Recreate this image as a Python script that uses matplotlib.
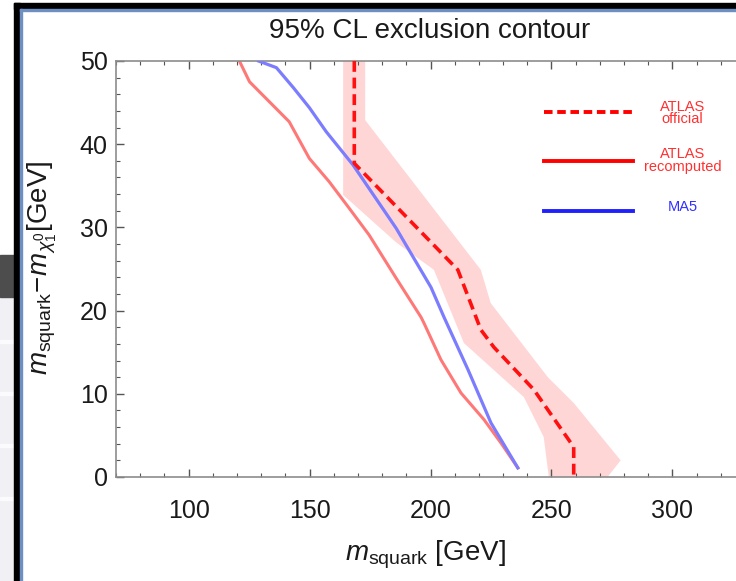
import matplotlib.pyplot as plt
from matplotlib.patches import Rectangle
from matplotlib.ticker import MultipleLocator

plt.rcParams['font.family'] = ['Liberation Sans', 'DejaVu Sans']
plt.rcParams['mathtext.fontset'] = 'custom'
plt.rcParams['mathtext.rm'] = 'Liberation Sans'
plt.rcParams['mathtext.it'] = 'Liberation Sans:italic'

# ATLAS official contour (dashed) and its uncertainty band
official_x = [168.5, 168.5, 211.3, 220.8, 226.2, 242.7, 259.2, 259.2]
official_y = [50, 37.7, 24.9, 17.7, 15.6, 10.5, 3.6, 0]
band_lo_x = [163.9, 163.9, 185.8, 201.4, 213.8, 238.6, 246.8, 248.9]
band_lo_y = [50, 33.9, 28.2, 24.9, 16.1, 9.6, 4.8, 0]
band_hi_x = [173.0, 173.0, 220.8, 224.9, 248.5, 259.2, 278.6, 273.2]
band_hi_y = [50, 42.9, 24.9, 20.9, 12.0, 8.9, 2.0, 0]

# ATLAS recomputed
recomp_x = [121.0, 125.2, 133.4, 141.6, 149.9, 158.1, 166.4, 174.6, 185.8,
            196.1, 197.3, 204.3, 212.6, 222.1, 229.1, 236.1]
recomp_y = [50, 47.5, 45.1, 42.7, 38.3, 35.5, 32.3, 29.1, 23.9,
            19.2, 18.5, 14.1, 10.1, 6.9, 4.1, 1.1]

# MA5
ma5_x = [128.9, 136.3, 143.3, 149.9, 156.9, 168.0, 185.8, 200.2, 205.6,
         215.5, 225.0, 236.1]
ma5_y = [50, 49.2, 46.8, 44.4, 41.5, 37.5, 29.9, 22.8, 19.2, 12.9, 6.5, 1.1]

legend_labels = ['ATLAS\nofficial', 'ATLAS\nrecomputed', 'MA5']

W, H = 736, 581
fig = plt.figure(figsize=(W / 100, H / 100), dpi=100)

# screenshot surroundings
fig.patches.append(Rectangle((0, 0), 14 / W, 1 - 297 / H, transform=fig.transFigure,
                             color='#f0f0f5', zorder=0))
fig.patches.append(Rectangle((0, 1 - 297 / H), 14 / W, 42 / H,
                             transform=fig.transFigure, color='#4d4d4d', zorder=0))
for yy in [343, 395, 447, 500]:
    fig.patches.append(Rectangle((0, 1 - yy / H), 14 / W, 3 / H,
                                 transform=fig.transFigure, color='#fbfbfd', zorder=0))
fig.patches.append(Rectangle((14 / W, 0), 6 / W, 1 - 3 / H, transform=fig.transFigure,
                             color='black', zorder=5))
fig.patches.append(Rectangle((14 / W, 1 - 9 / H), 1, 6 / H, transform=fig.transFigure,
                             color='black', zorder=5))
fig.patches.append(Rectangle((20 / W, 0), 1.5 / W, 1 - 9 / H, transform=fig.transFigure,
                             color='#6d8fc4', zorder=5))
fig.patches.append(Rectangle((20 / W, 1 - 10.5 / H), 1, 1.5 / H, transform=fig.transFigure,
                             color='#6d8fc4', zorder=5))

ax = fig.add_axes([116 / W, 1 - 477 / H, (745 - 116) / W, (477 - 61) / H])

band_x = band_lo_x + band_hi_x[::-1]
band_y = band_lo_y + band_hi_y[::-1]
ax.fill(band_x, band_y, color='#ffd6d6', lw=0, zorder=1)
ax.plot(recomp_x, recomp_y, color='#ff7878', lw=2.2, zorder=2)
ax.plot(ma5_x, ma5_y, color='#7c7cff', lw=2.3, zorder=3)
ax.plot(official_x, official_y, color='#ff1010', lw=2.6, ls=(0, (3, 1.6)), zorder=4)

ax.set_xlim(70, 330)
ax.set_ylim(0, 50)

for s in ['left', 'bottom', 'top']:
    ax.spines[s].set_color('#8c8c8c')
    ax.spines[s].set_linewidth(1.2)
ax.spines['right'].set_visible(False)

ax.xaxis.set_major_locator(MultipleLocator(50))
ax.xaxis.set_minor_locator(MultipleLocator(10))
ax.yaxis.set_major_locator(MultipleLocator(10))
ax.yaxis.set_minor_locator(MultipleLocator(2))
ax.tick_params(which='both', direction='in', top=True, right=False, color='#555555')
ax.tick_params(which='major', length=6, width=1)
ax.tick_params(which='minor', length=3, width=0.8)
ax.tick_params(axis='x', which='major', labelsize=18, pad=16, labelcolor='#1a1a1a')
ax.tick_params(axis='y', which='major', labelsize=18, pad=6, labelcolor='#1a1a1a')
ax.set_xticks([100, 150, 200, 250, 300])

fig.text(430 / W, 1 - 31 / H, '95% CL exclusion contour', ha='center', va='center',
         fontsize=20, color='#1a1a1a')
fig.text(425 / W, 1 - 555 / H, r'$m_{\mathrm{squark}}$ [GeV]', ha='center',
         va='center', fontsize=20, color='#1a1a1a')
fig.text(42 / W, 1 - 268 / H, r'$m_{\mathrm{squark}}\!-\!m_{\chi_1^0}$[GeV]',
         ha='center', va='center', rotation=90, fontsize=20, color='#1a1a1a')

# legend
leg_y = [0.877, 0.760, 0.639]
leg_txt_y = [0.875, 0.760, 0.648]
leg_styles = [dict(color='#ff0000', ls=(0, (2.2, 1.2))), dict(color='#ff0000', ls='-'),
              dict(color='#2020ff', ls='-')]
leg_text_colors = ['#ff3030', '#ff3030', '#3030ff']
for y, ty, st, lab, tc in zip(leg_y, leg_txt_y, leg_styles, legend_labels,
                               leg_text_colors):
    ax.plot([0.680, 0.822], [y, y], transform=ax.transAxes, lw=2.8, clip_on=False, **st)
    ax.text(0.901, ty, lab, transform=ax.transAxes, ha='center', va='center',
            color=tc, fontsize=10.5, linespacing=0.9)

fig.savefig('out.png', dpi=100)
